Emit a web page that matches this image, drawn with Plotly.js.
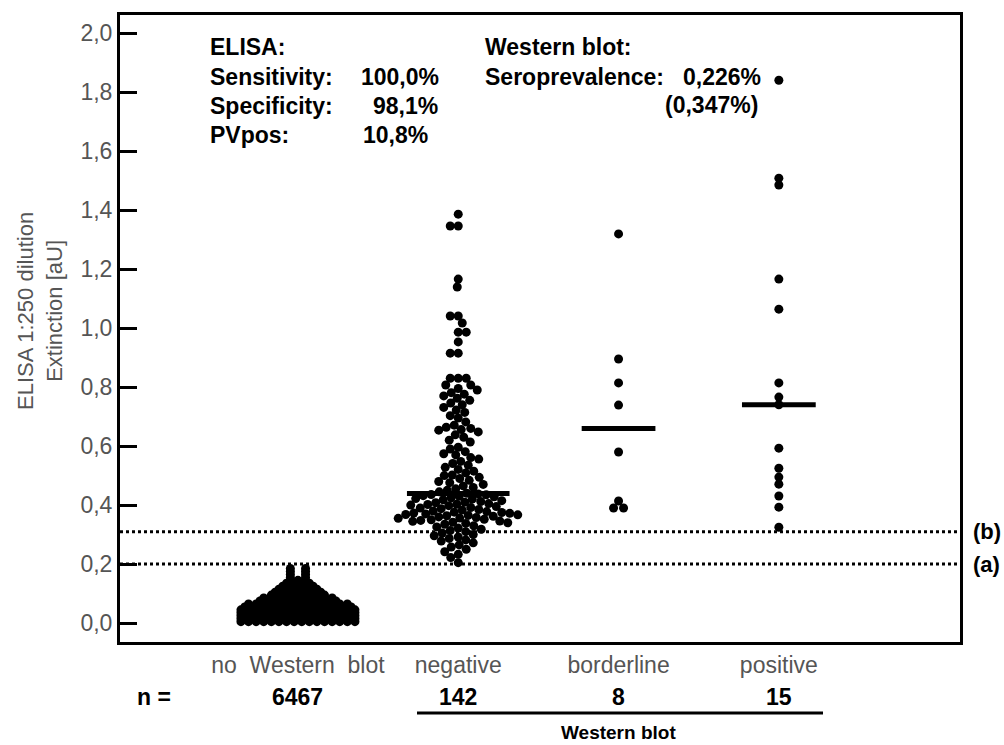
<!DOCTYPE html>
<html>
<head>
<meta charset="utf-8">
<script src="https://cdn.plot.ly/plotly-3.0.1.min.js"></script>
<style>html,body{margin:0;padding:0;background:#fff;}#chart{width:1004px;height:745px;}</style>
</head>
<body>
<div id="chart"></div>
<script>
// ---------- data ----------
const categories = ['no\u00a0\u00a0Western\u00a0\u00a0blot', 'negative', 'borderline', 'positive'];
const nCounts = ['6467', '142', '8', '15'];

// "no Western blot" group (n = 6467): drawn as a solid blob of rows of visible dots
const noWbLevels = [0.005, 0.015, 0.025, 0.035, 0.045, 0.055, 0.065, 0.075, 0.085, 0.095,
                    0.105, 0.115, 0.125, 0.135, 0.145, 0.155, 0.165, 0.175, 0.185];
const noWbDotsPerRow = [16, 16, 16, 16, 16, 15, 14, 11, 10, 8, 7, 6, 5, 4, 3, 2, 2, 2, 2];

const negativeValues = [
  1.386, 1.346, 1.346, 1.166, 1.139, 1.041, 1.041, 1.017, 0.986, 0.986, 0.953, 0.915, 0.915,
  0.830, 0.830, 0.830, 0.807, 0.807,
  0.795, 0.790, 0.781, 0.776, 0.770, 0.762, 0.755, 0.746, 0.740, 0.731, 0.722, 0.714, 0.703,
  0.695, 0.682, 0.671, 0.664, 0.660, 0.656, 0.654, 0.648, 0.638, 0.630, 0.620, 0.614,
  0.596, 0.590, 0.581, 0.574, 0.570, 0.561, 0.556, 0.548, 0.541, 0.535, 0.528, 0.521, 0.515,
  0.509, 0.502, 0.500, 0.494, 0.490, 0.484, 0.480, 0.476, 0.470, 0.465, 0.460, 0.455, 0.450,
  0.445, 0.440,
  0.438, 0.436, 0.435, 0.432, 0.430, 0.428, 0.425, 0.422, 0.420, 0.418, 0.415, 0.412, 0.410,
  0.408, 0.405, 0.403, 0.402, 0.400,
  0.398, 0.395, 0.392, 0.390, 0.388, 0.385, 0.383, 0.380, 0.378, 0.376, 0.375, 0.373, 0.372,
  0.370, 0.368, 0.367, 0.365, 0.364, 0.362, 0.360, 0.358, 0.356, 0.355, 0.352, 0.350, 0.348,
  0.346, 0.345, 0.342, 0.340,
  0.338, 0.335, 0.330, 0.326, 0.322, 0.318, 0.314, 0.310, 0.305, 0.300, 0.296, 0.292, 0.287,
  0.282,
  0.278, 0.272, 0.265, 0.258, 0.250, 0.242, 0.233, 0.222, 0.205
];
const borderlineValues = [1.319, 0.895, 0.814, 0.739, 0.580, 0.414, 0.390, 0.390];
const positiveValues = [1.840, 1.508, 1.485, 1.166, 1.064, 0.814, 0.766, 0.740, 0.593, 0.525,
                        0.495, 0.471, 0.431, 0.393, 0.325];

const cutoffValues = [0.2, 0.31];
const cutoffLabels = ['(a)', '(b)'];

const elisaHeader = 'ELISA:';
const elisaLabels = ['Sensitivity:', 'Specificity:', 'PVpos:'];
const elisaValues = ['100,0%', '98,1%', '10,8%'];
const wbHeader = 'Western blot:';
const wbLabel = 'Seroprevalence:';
const wbValues = ['0,226%', '(0,347%)'];
const yTitle = 'ELISA 1:250 dilution<br>Extinction [aU]';
const groupTitle = 'Western blot';

// ---------- layout geometry ----------
const W = 1004, H = 745;
const M = {l: 120, r: 44, t: 15, b: 103};
const PW = W - M.l - M.r, PH = H - M.t - M.b;
const xRange = [-1.11, 4.13];
const yRange = [-0.064, 2.061];
const pxPerX = PW / (xRange[1] - xRange[0]);
const pxPerY = PH / (yRange[1] - yRange[0]);
const px = v => (v - M.l) / PW;          // pixel -> paper x
const py = v => (H - M.b - v) / PH;      // pixel -> paper y

const FONT = 'Liberation Sans, Arial, sans-serif';
const GREY = '#555555';

// beeswarm offsets (pixels) for a list of values
function swarm(values, minDist) {
  const order = values.map((v, i) => i).sort((a, b) => values[b] - values[a]);
  const placed = [];
  const offs = new Array(values.length).fill(0);
  for (const i of order) {
    const yp = values[i] * pxPerY;
    let found = 0;
    for (let j = 0; j < 400; j++) {
      const cands = j === 0 ? [0] : (placed.length % 2 ? [j * 0.5, -j * 0.5] : [-j * 0.5, j * 0.5]);
      let ok = null;
      for (const c of cands) {
        let hit = false;
        for (const p of placed) {
          const dy = p.y - yp;
          if (Math.abs(dy) >= minDist) continue;
          const dx = p.x - c;
          if (dx * dx + dy * dy < minDist * minDist) { hit = true; break; }
        }
        if (!hit) { ok = c; break; }
      }
      if (ok !== null) { found = ok; break; }
    }
    placed.push({x: found, y: yp});
    offs[i] = found;
  }
  return offs;
}
function median(a) {
  const s = a.slice().sort((x, y) => x - y);
  const m = Math.floor(s.length / 2);
  return s.length % 2 ? s[m] : (s[m - 1] + s[m]) / 2;
}

const traces = [];
const marker = {color: '#000', size: 9, line: {width: 0}};

// group 0 rows
{
  const xs = [], ys = [];
  const step = 7.6;
  noWbLevels.forEach((lv, r) => {
    const n = noWbDotsPerRow[r];
    for (let k = 0; k < n; k++) {
      const off = (k - (n - 1) / 2) * step * (n === 2 ? 2 : 1);
      xs.push(0 + off / pxPerX);
      ys.push(lv);
    }
  });
  traces.push({type: 'scatter', mode: 'markers', x: xs, y: ys, marker: marker, hoverinfo: 'y', cliponaxis: false});
}

const groups = [negativeValues, borderlineValues, positiveValues];
const swarmDist = [8, 8.5, 6];
const medianHalfWidth = [0.32, 0.23, 0.23];
const shapes = [];
groups.forEach((vals, g) => {
  const cat = g + 1;
  const offs = swarm(vals, swarmDist[g]);
  traces.push({type: 'scatter', mode: 'markers',
    x: vals.map((v, i) => cat + offs[i] / pxPerX), y: vals,
    marker: marker, hoverinfo: 'y', cliponaxis: false});
  const med = median(vals);
  shapes.push({type: 'line', xref: 'x', yref: 'y', x0: cat - medianHalfWidth[g], x1: cat + medianHalfWidth[g],
    y0: med, y1: med, line: {color: '#000', width: 5}});
});

cutoffValues.forEach(v => {
  shapes.push({type: 'line', xref: 'paper', yref: 'y', x0: 0, x1: 1, y0: v, y1: v,
    line: {color: '#000', width: 3, dash: 'dot'}});
});
// bracket line under the Western blot groups
shapes.push({type: 'line', xref: 'paper', yref: 'paper', x0: px(417), x1: px(823), y0: py(713), y1: py(713),
  line: {color: '#000', width: 3}});

const bold = (size) => ({family: FONT, size: size, color: '#000', weight: 'bold'});
const ann = [];
function addText(text, x, y, anchor, font, extra) {
  ann.push(Object.assign({text: text, xref: 'paper', yref: 'paper', x: px(x), y: py(y),
    xanchor: anchor, yanchor: 'middle', showarrow: false, font: font}, extra || {}));
}
addText(elisaHeader, 208, 47, 'left', bold(23));
addText(elisaLabels[0], 208, 77, 'left', bold(23));
addText(elisaValues[0], 359, 77, 'left', bold(23));
addText(elisaLabels[1], 208, 106, 'left', bold(23));
addText(elisaValues[1], 440, 106, 'right', bold(23));
addText(elisaLabels[2], 208, 135, 'left', bold(23));
addText(elisaValues[2], 361, 135, 'left', bold(23));
addText(wbHeader, 483, 47, 'left', bold(23));
addText(wbLabel, 483, 77, 'left', bold(23));
addText(wbValues[0], 763, 77, 'right', bold(23));
addText(wbValues[1], 760, 105, 'right', bold(23));
addText('n =', 135, 697, 'left', bold(23));
nCounts.forEach((t, i) => {
  ann.push({text: t, xref: 'x', yref: 'paper', x: i, y: py(697), xanchor: 'center', yanchor: 'middle',
    showarrow: false, font: bold(23)});
});
addText(groupTitle, 618, 733, 'center', bold(19));
cutoffValues.forEach((v, i) => {
  ann.push({text: cutoffLabels[i], xref: 'paper', yref: 'y', x: px(971), y: v, xanchor: 'left', yanchor: 'middle',
    showarrow: false, font: bold(22)});
});
addText(yTitle, 40, 311, 'center', {family: FONT, size: 22, color: GREY}, {textangle: -90});

const layout = {
  width: W, height: H,
  margin: M,
  paper_bgcolor: '#fff', plot_bgcolor: '#fff',
  separators: ',.',
  showlegend: false,
  font: {family: FONT, color: '#000'},
  xaxis: {range: xRange, tickvals: [0, 1, 2, 3], ticktext: categories, ticks: '',
    showgrid: false, zeroline: false, showline: true, mirror: true, linewidth: 3, linecolor: '#000',
    tickfont: {family: FONT, size: 23, color: GREY}, fixedrange: true},
  yaxis: {range: yRange, tick0: 0, dtick: 0.2, tickformat: '.1f', ticks: 'inside', ticklen: 17, tickwidth: 3,
    tickcolor: '#000', showgrid: false, zeroline: false, showline: true, mirror: true, linewidth: 3,
    linecolor: '#000', tickfont: {family: FONT, size: 23, color: GREY}, fixedrange: true},
  shapes: shapes,
  annotations: ann
};
Plotly.newPlot('chart', traces, layout, {staticPlot: true, displayModeBar: false});
</script>
</body>
</html>
